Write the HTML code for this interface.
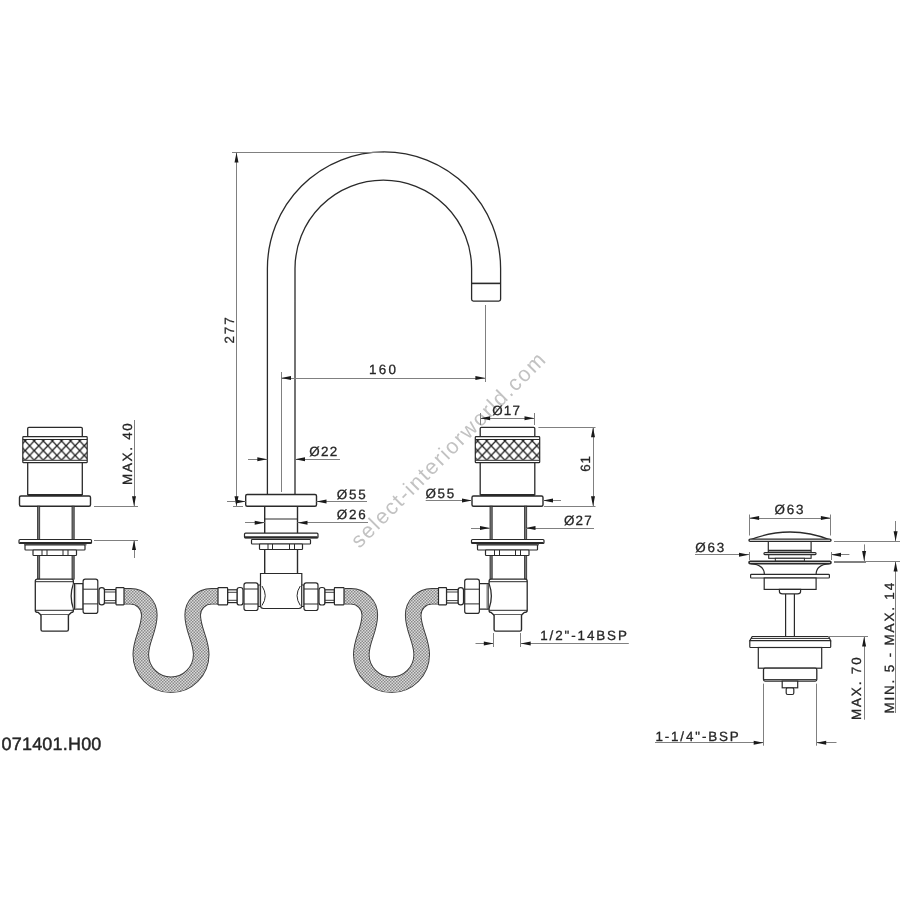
<!DOCTYPE html>
<html><head><meta charset="utf-8"><style>
html,body{margin:0;padding:0;background:#fff;}
svg{display:block;font-family:"Liberation Sans", sans-serif;filter:blur(0.3px);}
</style></head><body>
<svg width="900" height="900" viewBox="0 0 900 900">
<rect width="900" height="900" fill="#fff"/>

<defs>
 <pattern id="braid" patternUnits="userSpaceOnUse" width="3" height="3">
  <rect width="3" height="3" fill="#dadada"/>
  <rect x="0" y="0" width="1.5" height="1.5" fill="#8a8a8a"/>
  <rect x="1.5" y="1.5" width="1.5" height="1.5" fill="#8a8a8a"/>
 </pattern>
 <pattern id="knurl55" patternUnits="userSpaceOnUse" x="25.1" y="440.9" width="9.1" height="9.7">
  <path d="M0,0 L9.1,9.7 M9.1,0 L0,9.7" stroke="#1e1e1e" stroke-width="1.3"/>
 </pattern>
 <pattern id="knurl507" patternUnits="userSpaceOnUse" x="477.6" y="440.9" width="9.1" height="9.7">
  <path d="M0,0 L9.1,9.7 M9.1,0 L0,9.7" stroke="#1e1e1e" stroke-width="1.3"/>
 </pattern>
</defs>
<text x="453.6" y="454.6" font-size="21.5" letter-spacing="1.65" text-anchor="middle" fill="#c2c2c2" text-rendering="geometricPrecision" transform="rotate(-45.1 453.6 454.6)">select-interiorworld.com</text>
<path d="M 124.00 596.30 H 130.60 C 140.93 596.30 149.30 604.67 149.30 615.00 C 149.30 630.00 140.80 640.00 140.80 654.60 A 30.2 30.2 0 0 0 201.20 654.60 C 201.20 640.00 192.70 630.00 192.70 615.00 C 192.70 604.67 201.07 596.30 211.40 596.30 H 218.00" fill="none" stroke="#3a3a3a" stroke-width="16.6"/>
<path d="M 124.00 596.30 H 130.60 C 140.93 596.30 149.30 604.67 149.30 615.00 C 149.30 630.00 140.80 640.00 140.80 654.60 A 30.2 30.2 0 0 0 201.20 654.60 C 201.20 640.00 192.70 630.00 192.70 615.00 C 192.70 604.67 201.07 596.30 211.40 596.30 H 218.00" fill="none" stroke="url(#braid)" stroke-width="14.7"/>
<path d="M 344.50 596.30 H 351.10 C 361.43 596.30 369.80 604.67 369.80 615.00 C 369.80 630.00 361.30 640.00 361.30 654.60 A 30.2 30.2 0 0 0 421.70 654.60 C 421.70 640.00 413.20 630.00 413.20 615.00 C 413.20 604.67 421.57 596.30 431.90 596.30 H 438.50" fill="none" stroke="#3a3a3a" stroke-width="16.6"/>
<path d="M 344.50 596.30 H 351.10 C 361.43 596.30 369.80 604.67 369.80 615.00 C 369.80 630.00 361.30 640.00 361.30 654.60 A 30.2 30.2 0 0 0 421.70 654.60 C 421.70 640.00 413.20 630.00 413.20 615.00 C 413.20 604.67 421.57 596.30 431.90 596.30 H 438.50" fill="none" stroke="url(#braid)" stroke-width="14.7"/>
<path d="M267.4,494.5 V268.5 A116.6,116.6 0 0 1 500.6,268.5 V299.3 Q500.6,301.1 498.8,301.1 H473.4 Q471.6,301.1 471.6,299.3 V268.5 A88.3,88.3 0 0 0 295,268.5 V494.5" fill="none" stroke="#2a2a2a" stroke-width="1.30"/>
<line x1="471.60" y1="283.40" x2="500.60" y2="283.40" stroke="#2a2a2a" stroke-width="1.60"/>
<rect x="245.70" y="494.50" width="70.80" height="11.80" rx="1.50" fill="#fff" stroke="#2a2a2a" stroke-width="1.40"/>
<line x1="264.70" y1="506.30" x2="264.70" y2="533.20" stroke="#2a2a2a" stroke-width="1.40"/>
<line x1="297.50" y1="506.30" x2="297.50" y2="533.20" stroke="#2a2a2a" stroke-width="1.40"/>
<line x1="264.70" y1="519.00" x2="297.50" y2="519.00" stroke="#2a2a2a" stroke-width="1.00"/>
<rect x="244.50" y="533.20" width="73.50" height="4.80" rx="1.00" fill="#fff" stroke="#2a2a2a" stroke-width="1.20"/>
<line x1="245.00" y1="537.20" x2="317.50" y2="537.20" stroke="#2a2a2a" stroke-width="2.00"/>
<rect x="251.50" y="539.50" width="59.00" height="4.50" rx="0.80" fill="#fff" stroke="#2a2a2a" stroke-width="1.20"/>
<rect x="259.50" y="544.00" width="43.00" height="5.50" rx="0.80" fill="#fff" stroke="#2a2a2a" stroke-width="1.20"/>
<line x1="268.00" y1="544.00" x2="268.00" y2="549.50" stroke="#2a2a2a" stroke-width="1.00"/>
<line x1="272.50" y1="544.00" x2="272.50" y2="549.50" stroke="#2a2a2a" stroke-width="1.00"/>
<line x1="289.50" y1="544.00" x2="289.50" y2="549.50" stroke="#2a2a2a" stroke-width="1.00"/>
<line x1="294.50" y1="544.00" x2="294.50" y2="549.50" stroke="#2a2a2a" stroke-width="1.00"/>
<line x1="264.70" y1="549.50" x2="264.70" y2="573.50" stroke="#2a2a2a" stroke-width="1.40"/>
<line x1="297.50" y1="549.50" x2="297.50" y2="573.50" stroke="#2a2a2a" stroke-width="1.40"/>
<path d="M260.5,573.5 H301.8 V605.5 Q301.8,608.5 298.8,608.5 H263.5 Q260.5,608.5 260.5,605.5 Z" fill="#fff" stroke="#2a2a2a" stroke-width="1.20"/>
<path d="M262,586 Q268.5,595.7 262,605.5" fill="none" stroke="#2a2a2a" stroke-width="1.00"/>
<path d="M300.3,586 Q293.8,595.7 300.3,605.5" fill="none" stroke="#2a2a2a" stroke-width="1.00"/>
<rect x="258.00" y="585.00" width="2.20" height="21.50" rx="0.00" fill="#fff" stroke="#2a2a2a" stroke-width="1.00"/>
<rect x="244.00" y="582.80" width="14.00" height="27.70" rx="2.20" fill="#fff" stroke="#2a2a2a" stroke-width="1.20"/>
<line x1="244.00" y1="589.00" x2="258.00" y2="589.00" stroke="#2a2a2a" stroke-width="1.00"/>
<line x1="244.00" y1="604.00" x2="258.00" y2="604.00" stroke="#2a2a2a" stroke-width="1.00"/>
<rect x="237.00" y="587.50" width="6.00" height="17.50" rx="2.60" fill="#fff" stroke="#2a2a2a" stroke-width="1.20"/>
<rect x="227.60" y="589.80" width="9.40" height="12.80" rx="0.00" fill="#fff" stroke="#2a2a2a" stroke-width="1.20"/>
<line x1="227.60" y1="592.30" x2="237.00" y2="592.30" stroke="#2a2a2a" stroke-width="0.90"/>
<line x1="227.60" y1="600.30" x2="237.00" y2="600.30" stroke="#2a2a2a" stroke-width="0.90"/>
<rect x="218.00" y="587.70" width="9.60" height="17.10" rx="0.50" fill="#fff" stroke="#2a2a2a" stroke-width="1.20"/>
<rect x="301.80" y="585.00" width="2.20" height="21.50" rx="0.00" fill="#fff" stroke="#2a2a2a" stroke-width="1.00"/>
<rect x="304.00" y="582.80" width="14.00" height="27.70" rx="2.20" fill="#fff" stroke="#2a2a2a" stroke-width="1.20"/>
<line x1="304.00" y1="589.00" x2="318.00" y2="589.00" stroke="#2a2a2a" stroke-width="1.00"/>
<line x1="304.00" y1="604.00" x2="318.00" y2="604.00" stroke="#2a2a2a" stroke-width="1.00"/>
<rect x="319.00" y="587.50" width="6.00" height="17.50" rx="2.60" fill="#fff" stroke="#2a2a2a" stroke-width="1.20"/>
<rect x="325.00" y="589.80" width="9.40" height="12.80" rx="0.00" fill="#fff" stroke="#2a2a2a" stroke-width="1.20"/>
<line x1="325.00" y1="592.30" x2="334.40" y2="592.30" stroke="#2a2a2a" stroke-width="0.90"/>
<line x1="325.00" y1="600.30" x2="334.40" y2="600.30" stroke="#2a2a2a" stroke-width="0.90"/>
<rect x="334.40" y="587.70" width="9.60" height="17.10" rx="0.50" fill="#fff" stroke="#2a2a2a" stroke-width="1.20"/>
<rect x="27.70" y="427.30" width="54.60" height="9.60" rx="1.20" fill="#fff" stroke="#2a2a2a" stroke-width="1.30"/>
<rect x="22.80" y="436.60" width="64.40" height="26.10" rx="0.80" fill="#fff" stroke="#2a2a2a" stroke-width="1.20"/>
<line x1="22.80" y1="439.50" x2="87.20" y2="439.50" stroke="#2a2a2a" stroke-width="1.00"/>
<line x1="22.80" y1="460.30" x2="87.20" y2="460.30" stroke="#2a2a2a" stroke-width="1.00"/>
<rect x="22.80" y="439.6" width="64.4" height="20.3" fill="url(#knurl55)"/>
<line x1="27.70" y1="462.70" x2="27.70" y2="495.00" stroke="#2a2a2a" stroke-width="1.30"/>
<line x1="82.30" y1="462.70" x2="82.30" y2="495.00" stroke="#2a2a2a" stroke-width="1.30"/>
<line x1="27.70" y1="495.00" x2="82.30" y2="495.00" stroke="#2a2a2a" stroke-width="1.80"/>
<rect x="19.50" y="496.00" width="71.00" height="10.20" rx="1.50" fill="#fff" stroke="#2a2a2a" stroke-width="1.40"/>
<rect x="37.50" y="506.2" width="2.2" height="33.3" fill="#777" stroke="#2a2a2a" stroke-width="0.8"/>
<rect x="72.00" y="506.2" width="2.2" height="33.3" fill="#777" stroke="#2a2a2a" stroke-width="0.8"/>
<rect x="19.00" y="539.50" width="72.50" height="4.00" rx="1.00" fill="#fff" stroke="#2a2a2a" stroke-width="1.20"/>
<line x1="19.50" y1="543.00" x2="91.00" y2="543.00" stroke="#2a2a2a" stroke-width="1.90"/>
<line x1="24.00" y1="544.80" x2="86.50" y2="544.80" stroke="#2a2a2a" stroke-width="1.00"/>
<rect x="25.00" y="545.00" width="60.00" height="5.00" rx="0.80" fill="#fff" stroke="#2a2a2a" stroke-width="1.20"/>
<rect x="33.00" y="550.00" width="43.50" height="5.50" rx="0.80" fill="#fff" stroke="#2a2a2a" stroke-width="1.20"/>
<line x1="42.00" y1="550.00" x2="42.00" y2="555.50" stroke="#2a2a2a" stroke-width="1.00"/>
<line x1="47.00" y1="550.00" x2="47.00" y2="555.50" stroke="#2a2a2a" stroke-width="1.00"/>
<line x1="63.00" y1="550.00" x2="63.00" y2="555.50" stroke="#2a2a2a" stroke-width="1.00"/>
<line x1="68.00" y1="550.00" x2="68.00" y2="555.50" stroke="#2a2a2a" stroke-width="1.00"/>
<rect x="37.50" y="555.5" width="2.2" height="23.7" fill="#777" stroke="#2a2a2a" stroke-width="0.8"/>
<rect x="72.00" y="555.5" width="2.2" height="23.7" fill="#777" stroke="#2a2a2a" stroke-width="0.8"/>
<g transform="translate(55.00,0) scale(1,1)">
<path d="M-17.7,579.2 H16.4 Q18.4,579.2 18.4,581.2 V583.6 Q13.9,596 18.4,608.6 V610.4 Q18.4,612.4 16.4,612.4 L13.6,615 H-14 L-16.8,612.4 Q-19.7,612.4 -19.7,610.4 V581.2 Q-19.7,579.2 -17.7,579.2 Z" fill="#fff" stroke="#2a2a2a" stroke-width="1.30"/>
<line x1="-19.70" y1="581.70" x2="18.40" y2="581.70" stroke="#2a2a2a" stroke-width="1.00"/>
<line x1="-19.70" y1="610.30" x2="18.40" y2="610.30" stroke="#2a2a2a" stroke-width="1.00"/>
<path d="M-14,615 V629.5 Q-14,631.1 -12.4,631.1 H11.8 Q13.4,631.1 13.4,629.5 V615" fill="#fff" stroke="#2a2a2a" stroke-width="1.40"/>
<path d="M18.6,583.6 H28.1 V609.2 H18.6" fill="#fff" stroke="#2a2a2a" stroke-width="1.20"/>
<line x1="19.40" y1="583.60" x2="19.40" y2="609.20" stroke="#2a2a2a" stroke-width="1.30"/>
<line x1="20.70" y1="583.80" x2="20.70" y2="609.00" stroke="#8a8a8a" stroke-width="0.80"/>
<rect x="28.10" y="579.20" width="14.70" height="34.20" rx="2.20" fill="#fff" stroke="#2a2a2a" stroke-width="1.20"/>
<line x1="28.10" y1="589.20" x2="42.80" y2="589.20" stroke="#2a2a2a" stroke-width="1.00"/>
<line x1="28.10" y1="603.90" x2="42.80" y2="603.90" stroke="#2a2a2a" stroke-width="1.00"/>
<rect x="44.00" y="587.70" width="5.50" height="17.10" rx="2.60" fill="#fff" stroke="#2a2a2a" stroke-width="1.20"/>
<rect x="49.50" y="589.60" width="11.50" height="13.40" rx="0.00" fill="#fff" stroke="#2a2a2a" stroke-width="1.20"/>
<line x1="49.50" y1="592.00" x2="61.00" y2="592.00" stroke="#2a2a2a" stroke-width="0.90"/>
<line x1="49.50" y1="600.60" x2="61.00" y2="600.60" stroke="#2a2a2a" stroke-width="0.90"/>
<rect x="61.00" y="587.70" width="8.00" height="17.10" rx="0.50" fill="#fff" stroke="#2a2a2a" stroke-width="1.20"/>
</g>
<rect x="480.20" y="427.30" width="54.60" height="9.60" rx="1.20" fill="#fff" stroke="#2a2a2a" stroke-width="1.30"/>
<rect x="475.30" y="436.60" width="64.40" height="26.10" rx="0.80" fill="#fff" stroke="#2a2a2a" stroke-width="1.20"/>
<line x1="475.30" y1="439.50" x2="539.70" y2="439.50" stroke="#2a2a2a" stroke-width="1.00"/>
<line x1="475.30" y1="460.30" x2="539.70" y2="460.30" stroke="#2a2a2a" stroke-width="1.00"/>
<rect x="475.30" y="439.6" width="64.4" height="20.3" fill="url(#knurl507)"/>
<line x1="480.20" y1="462.70" x2="480.20" y2="495.00" stroke="#2a2a2a" stroke-width="1.30"/>
<line x1="534.80" y1="462.70" x2="534.80" y2="495.00" stroke="#2a2a2a" stroke-width="1.30"/>
<line x1="480.20" y1="495.00" x2="534.80" y2="495.00" stroke="#2a2a2a" stroke-width="1.80"/>
<rect x="472.00" y="496.00" width="71.00" height="10.20" rx="1.50" fill="#fff" stroke="#2a2a2a" stroke-width="1.40"/>
<rect x="490.00" y="506.2" width="2.2" height="33.3" fill="#777" stroke="#2a2a2a" stroke-width="0.8"/>
<rect x="524.50" y="506.2" width="2.2" height="33.3" fill="#777" stroke="#2a2a2a" stroke-width="0.8"/>
<rect x="471.50" y="539.50" width="72.50" height="4.00" rx="1.00" fill="#fff" stroke="#2a2a2a" stroke-width="1.20"/>
<line x1="472.00" y1="543.00" x2="543.50" y2="543.00" stroke="#2a2a2a" stroke-width="1.90"/>
<line x1="476.50" y1="544.80" x2="539.00" y2="544.80" stroke="#2a2a2a" stroke-width="1.00"/>
<rect x="477.50" y="545.00" width="60.00" height="5.00" rx="0.80" fill="#fff" stroke="#2a2a2a" stroke-width="1.20"/>
<rect x="485.50" y="550.00" width="43.50" height="5.50" rx="0.80" fill="#fff" stroke="#2a2a2a" stroke-width="1.20"/>
<line x1="494.50" y1="550.00" x2="494.50" y2="555.50" stroke="#2a2a2a" stroke-width="1.00"/>
<line x1="499.50" y1="550.00" x2="499.50" y2="555.50" stroke="#2a2a2a" stroke-width="1.00"/>
<line x1="515.50" y1="550.00" x2="515.50" y2="555.50" stroke="#2a2a2a" stroke-width="1.00"/>
<line x1="520.50" y1="550.00" x2="520.50" y2="555.50" stroke="#2a2a2a" stroke-width="1.00"/>
<rect x="490.00" y="555.5" width="2.2" height="23.7" fill="#777" stroke="#2a2a2a" stroke-width="0.8"/>
<rect x="524.50" y="555.5" width="2.2" height="23.7" fill="#777" stroke="#2a2a2a" stroke-width="0.8"/>
<g transform="translate(507.50,0) scale(-1,1)">
<path d="M-17.7,579.2 H16.4 Q18.4,579.2 18.4,581.2 V583.6 Q13.9,596 18.4,608.6 V610.4 Q18.4,612.4 16.4,612.4 L13.6,615 H-14 L-16.8,612.4 Q-19.7,612.4 -19.7,610.4 V581.2 Q-19.7,579.2 -17.7,579.2 Z" fill="#fff" stroke="#2a2a2a" stroke-width="1.30"/>
<line x1="-19.70" y1="581.70" x2="18.40" y2="581.70" stroke="#2a2a2a" stroke-width="1.00"/>
<line x1="-19.70" y1="610.30" x2="18.40" y2="610.30" stroke="#2a2a2a" stroke-width="1.00"/>
<path d="M-14,615 V629.5 Q-14,631.1 -12.4,631.1 H11.8 Q13.4,631.1 13.4,629.5 V615" fill="#fff" stroke="#2a2a2a" stroke-width="1.40"/>
<path d="M18.6,583.6 H28.1 V609.2 H18.6" fill="#fff" stroke="#2a2a2a" stroke-width="1.20"/>
<line x1="19.40" y1="583.60" x2="19.40" y2="609.20" stroke="#2a2a2a" stroke-width="1.30"/>
<line x1="20.70" y1="583.80" x2="20.70" y2="609.00" stroke="#8a8a8a" stroke-width="0.80"/>
<rect x="28.10" y="579.20" width="14.70" height="34.20" rx="2.20" fill="#fff" stroke="#2a2a2a" stroke-width="1.20"/>
<line x1="28.10" y1="589.20" x2="42.80" y2="589.20" stroke="#2a2a2a" stroke-width="1.00"/>
<line x1="28.10" y1="603.90" x2="42.80" y2="603.90" stroke="#2a2a2a" stroke-width="1.00"/>
<rect x="44.00" y="587.70" width="5.50" height="17.10" rx="2.60" fill="#fff" stroke="#2a2a2a" stroke-width="1.20"/>
<rect x="49.50" y="589.60" width="11.50" height="13.40" rx="0.00" fill="#fff" stroke="#2a2a2a" stroke-width="1.20"/>
<line x1="49.50" y1="592.00" x2="61.00" y2="592.00" stroke="#2a2a2a" stroke-width="0.90"/>
<line x1="49.50" y1="600.60" x2="61.00" y2="600.60" stroke="#2a2a2a" stroke-width="0.90"/>
<rect x="61.00" y="587.70" width="8.00" height="17.10" rx="0.50" fill="#fff" stroke="#2a2a2a" stroke-width="1.20"/>
</g>
<path d="M749.5,540 Q790,524 830.5,540" fill="none" stroke="#2a2a2a" stroke-width="1.30"/>
<rect x="749.00" y="539.10" width="82.00" height="2.30" rx="1.10" fill="#fff" stroke="#2a2a2a" stroke-width="1.40"/>
<line x1="768.30" y1="541.30" x2="768.30" y2="552.50" stroke="#2a2a2a" stroke-width="1.20"/>
<line x1="811.10" y1="541.30" x2="811.10" y2="552.50" stroke="#2a2a2a" stroke-width="1.20"/>
<line x1="768.30" y1="550.60" x2="811.10" y2="550.60" stroke="#2a2a2a" stroke-width="1.60"/>
<rect x="763.90" y="552.60" width="52.20" height="2.00" rx="1.00" fill="#fff" stroke="#2a2a2a" stroke-width="1.10"/>
<rect x="768.70" y="554.70" width="42.40" height="3.60" rx="0.00" fill="#fff" stroke="#2a2a2a" stroke-width="1.10"/>
<rect x="775.30" y="558.30" width="29.10" height="3.00" rx="0.00" fill="#fff" stroke="#2a2a2a" stroke-width="1.00"/>
<rect x="749.00" y="561.30" width="82.00" height="2.30" rx="1.10" fill="#fff" stroke="#2a2a2a" stroke-width="1.60"/>
<path d="M751,563.6 C760,564.5 764.4,568 764.4,574.4" fill="none" stroke="#2a2a2a" stroke-width="1.20"/>
<path d="M829,563.6 C820,564.5 816.1,568 816.1,574.4" fill="none" stroke="#2a2a2a" stroke-width="1.20"/>
<rect x="750.60" y="574.40" width="78.80" height="3.60" rx="0.80" fill="#fff" stroke="#2a2a2a" stroke-width="1.20"/>
<rect x="764.20" y="578.00" width="51.90" height="11.40" rx="0.00" fill="#fff" stroke="#2a2a2a" stroke-width="1.20"/>
<path d="M779.4,589.4 H800.6 V591.5 Q800.6,593.9 797.5,593.9 H782.5 Q779.4,593.9 779.4,591.5 Z" fill="#fff" stroke="#2a2a2a" stroke-width="1.20"/>
<line x1="785.60" y1="593.90" x2="785.60" y2="636.50" stroke="#2a2a2a" stroke-width="1.20"/>
<line x1="794.40" y1="593.90" x2="794.40" y2="636.50" stroke="#2a2a2a" stroke-width="1.20"/>
<path d="M752.2,636.5 H828.6 L830.7,640.7 H749.8 Z" fill="#fff" stroke="#2a2a2a" stroke-width="1.20"/>
<line x1="751.00" y1="638.40" x2="829.50" y2="638.40" stroke="#2a2a2a" stroke-width="1.00"/>
<rect x="749.80" y="640.70" width="80.90" height="6.80" rx="0.80" fill="#fff" stroke="#2a2a2a" stroke-width="1.20"/>
<rect x="758.30" y="647.50" width="63.40" height="20.70" rx="0.00" fill="#fff" stroke="#2a2a2a" stroke-width="1.20"/>
<rect x="763.50" y="668.20" width="53.30" height="12.90" rx="1.50" fill="#fff" stroke="#2a2a2a" stroke-width="1.30"/>
<line x1="764.00" y1="679.60" x2="816.30" y2="679.60" stroke="#2a2a2a" stroke-width="1.00"/>
<rect x="782.20" y="681.10" width="15.50" height="6.70" rx="0.00" fill="#fff" stroke="#2a2a2a" stroke-width="1.20"/>
<rect x="786.20" y="687.80" width="7.60" height="6.70" rx="1.50" fill="#fff" stroke="#2a2a2a" stroke-width="1.20"/>
<line x1="236.50" y1="152.40" x2="236.50" y2="506.30" stroke="#808080" stroke-width="1.00"/>
<line x1="232.00" y1="152.50" x2="384.00" y2="152.50" stroke="#808080" stroke-width="1.00"/>
<line x1="233.00" y1="506.50" x2="243.00" y2="506.50" stroke="#808080" stroke-width="1.00"/>
<polygon points="236.50,152.40 234.50,162.40 238.50,162.40" fill="#1a1a1a"/>
<polygon points="236.50,506.30 234.50,496.30 238.50,496.30" fill="#1a1a1a"/>
<text x="233.59" y="329.46" font-size="13.4" letter-spacing="1.910" text-anchor="middle" fill="#262626" stroke="#262626" stroke-width="0.3" text-rendering="geometricPrecision" transform="rotate(-90 233.59 329.46)">277</text>
<line x1="281.00" y1="378.50" x2="485.40" y2="378.50" stroke="#808080" stroke-width="1.00"/>
<line x1="281.50" y1="372.00" x2="281.50" y2="492.00" stroke="#808080" stroke-width="1.00"/>
<line x1="485.50" y1="305.00" x2="485.50" y2="382.00" stroke="#808080" stroke-width="1.00"/>
<polygon points="281.00,378.00 291.00,376.00 291.00,380.00" fill="#1a1a1a"/>
<polygon points="485.40,378.00 475.40,376.00 475.40,380.00" fill="#1a1a1a"/>
<text x="383.62" y="374.38" font-size="13.4" letter-spacing="2.225" text-anchor="middle" fill="#262626" stroke="#262626" stroke-width="0.3" text-rendering="geometricPrecision">160</text>
<line x1="248.00" y1="459.50" x2="267.30" y2="459.50" stroke="#808080" stroke-width="1.00"/>
<polygon points="267.30,459.30 257.30,457.30 257.30,461.30" fill="#1a1a1a"/>
<line x1="295.00" y1="459.50" x2="340.00" y2="459.50" stroke="#808080" stroke-width="1.00"/>
<polygon points="295.00,459.30 305.00,457.30 305.00,461.30" fill="#1a1a1a"/>
<text x="309.27" y="455.92" font-size="13.4" letter-spacing="1.325" text-anchor="start" fill="#262626" stroke="#262626" stroke-width="0.3" text-rendering="geometricPrecision">Ø22</text>
<line x1="227.00" y1="501.50" x2="245.70" y2="501.50" stroke="#808080" stroke-width="1.00"/>
<polygon points="245.70,501.50 235.70,499.50 235.70,503.50" fill="#1a1a1a"/>
<line x1="316.50" y1="501.50" x2="367.00" y2="501.50" stroke="#808080" stroke-width="1.00"/>
<polygon points="316.50,501.50 326.50,499.50 326.50,503.50" fill="#1a1a1a"/>
<text x="336.77" y="498.73" font-size="13.4" letter-spacing="1.775" text-anchor="start" fill="#262626" stroke="#262626" stroke-width="0.3" text-rendering="geometricPrecision">Ø55</text>
<line x1="245.00" y1="522.50" x2="264.70" y2="522.50" stroke="#808080" stroke-width="1.00"/>
<polygon points="264.70,522.70 254.70,520.70 254.70,524.70" fill="#1a1a1a"/>
<line x1="297.50" y1="522.50" x2="368.00" y2="522.50" stroke="#808080" stroke-width="1.00"/>
<polygon points="297.50,522.70 307.50,520.70 307.50,524.70" fill="#1a1a1a"/>
<text x="336.82" y="519.27" font-size="13.4" letter-spacing="1.775" text-anchor="start" fill="#262626" stroke="#262626" stroke-width="0.3" text-rendering="geometricPrecision">Ø26</text>
<line x1="134.50" y1="420.00" x2="134.50" y2="506.30" stroke="#808080" stroke-width="1.00"/>
<polygon points="134.00,506.30 132.00,496.30 136.00,496.30" fill="#1a1a1a"/>
<line x1="94.00" y1="506.50" x2="138.00" y2="506.50" stroke="#808080" stroke-width="1.00"/>
<line x1="94.00" y1="540.50" x2="138.00" y2="540.50" stroke="#808080" stroke-width="1.00"/>
<line x1="134.50" y1="540.00" x2="134.50" y2="558.00" stroke="#808080" stroke-width="1.00"/>
<polygon points="134.00,540.00 132.00,550.00 136.00,550.00" fill="#1a1a1a"/>
<text x="132.04" y="453.23" font-size="13.4" letter-spacing="1.745" text-anchor="middle" fill="#262626" stroke="#262626" stroke-width="0.3" text-rendering="geometricPrecision" transform="rotate(-90 132.04 453.23)">MAX. 40</text>
<line x1="480.10" y1="418.50" x2="534.50" y2="418.50" stroke="#808080" stroke-width="1.00"/>
<polygon points="480.10,418.30 490.10,416.30 490.10,420.30" fill="#1a1a1a"/>
<polygon points="534.50,418.30 524.50,416.30 524.50,420.30" fill="#1a1a1a"/>
<line x1="480.50" y1="413.00" x2="480.50" y2="425.00" stroke="#808080" stroke-width="1.00"/>
<line x1="534.50" y1="413.00" x2="534.50" y2="425.00" stroke="#808080" stroke-width="1.00"/>
<text x="492.23" y="414.84" font-size="13.4" letter-spacing="1.235" text-anchor="start" fill="#262626" stroke="#262626" stroke-width="0.3" text-rendering="geometricPrecision">Ø17</text>
<line x1="593.50" y1="427.30" x2="593.50" y2="506.30" stroke="#808080" stroke-width="1.00"/>
<polygon points="593.00,427.30 591.00,437.30 595.00,437.30" fill="#1a1a1a"/>
<polygon points="593.00,506.30 591.00,496.30 595.00,496.30" fill="#1a1a1a"/>
<line x1="538.40" y1="427.50" x2="595.50" y2="427.50" stroke="#808080" stroke-width="1.00"/>
<line x1="544.00" y1="506.50" x2="595.50" y2="506.50" stroke="#808080" stroke-width="1.00"/>
<text x="590.26" y="463.41" font-size="13.4" letter-spacing="0.830" text-anchor="middle" fill="#262626" stroke="#262626" stroke-width="0.3" text-rendering="geometricPrecision" transform="rotate(-90 590.26 463.41)">61</text>
<line x1="425.70" y1="500.50" x2="472.00" y2="500.50" stroke="#808080" stroke-width="1.00"/>
<polygon points="472.00,500.50 462.00,498.50 462.00,502.50" fill="#1a1a1a"/>
<line x1="543.00" y1="500.50" x2="561.00" y2="500.50" stroke="#808080" stroke-width="1.00"/>
<polygon points="543.00,500.50 553.00,498.50 553.00,502.50" fill="#1a1a1a"/>
<text x="425.43" y="497.79" font-size="13.4" letter-spacing="1.730" text-anchor="start" fill="#262626" stroke="#262626" stroke-width="0.3" text-rendering="geometricPrecision">Ø55</text>
<line x1="471.00" y1="528.50" x2="490.00" y2="528.50" stroke="#808080" stroke-width="1.00"/>
<polygon points="490.00,528.00 480.00,526.00 480.00,530.00" fill="#1a1a1a"/>
<line x1="525.50" y1="528.50" x2="594.00" y2="528.50" stroke="#808080" stroke-width="1.00"/>
<polygon points="525.50,528.00 535.50,526.00 535.50,530.00" fill="#1a1a1a"/>
<text x="563.91" y="524.56" font-size="13.4" letter-spacing="1.212" text-anchor="start" fill="#262626" stroke="#262626" stroke-width="0.3" text-rendering="geometricPrecision">Ø27</text>
<line x1="475.50" y1="643.50" x2="493.80" y2="643.50" stroke="#808080" stroke-width="1.00"/>
<polygon points="493.80,643.50 483.80,641.50 483.80,645.50" fill="#1a1a1a"/>
<line x1="520.70" y1="643.50" x2="628.80" y2="643.50" stroke="#808080" stroke-width="1.00"/>
<polygon points="520.70,643.50 530.70,641.50 530.70,645.50" fill="#1a1a1a"/>
<line x1="493.50" y1="633.00" x2="493.50" y2="647.00" stroke="#808080" stroke-width="1.00"/>
<line x1="520.50" y1="633.00" x2="520.50" y2="647.00" stroke="#808080" stroke-width="1.00"/>
<text x="540.24" y="640.42" font-size="13.4" letter-spacing="1.900" text-anchor="start" fill="#262626" stroke="#262626" stroke-width="0.3" text-rendering="geometricPrecision">1/2&quot;-14BSP</text>
<line x1="749.10" y1="518.50" x2="830.90" y2="518.50" stroke="#808080" stroke-width="1.00"/>
<polygon points="749.10,518.00 759.10,516.00 759.10,520.00" fill="#1a1a1a"/>
<polygon points="830.90,518.00 820.90,516.00 820.90,520.00" fill="#1a1a1a"/>
<line x1="749.50" y1="514.50" x2="749.50" y2="535.50" stroke="#808080" stroke-width="1.00"/>
<line x1="830.50" y1="514.50" x2="830.50" y2="535.50" stroke="#808080" stroke-width="1.00"/>
<text x="774.45" y="514.42" font-size="13.4" letter-spacing="1.820" text-anchor="start" fill="#262626" stroke="#262626" stroke-width="0.3" text-rendering="geometricPrecision">Ø63</text>
<line x1="695.00" y1="554.50" x2="749.00" y2="554.50" stroke="#808080" stroke-width="1.00"/>
<polygon points="749.00,554.80 739.00,552.80 739.00,556.80" fill="#1a1a1a"/>
<line x1="831.00" y1="554.50" x2="849.40" y2="554.50" stroke="#808080" stroke-width="1.00"/>
<polygon points="831.00,554.80 841.00,552.80 841.00,556.80" fill="#1a1a1a"/>
<line x1="749.50" y1="552.00" x2="749.50" y2="560.00" stroke="#808080" stroke-width="1.00"/>
<line x1="831.50" y1="552.00" x2="831.50" y2="560.00" stroke="#808080" stroke-width="1.00"/>
<text x="695.13" y="551.73" font-size="13.4" letter-spacing="1.865" text-anchor="start" fill="#262626" stroke="#262626" stroke-width="0.3" text-rendering="geometricPrecision">Ø63</text>
<line x1="834.00" y1="541.50" x2="900.00" y2="541.50" stroke="#808080" stroke-width="1.00"/>
<line x1="834.00" y1="561.50" x2="900.00" y2="561.50" stroke="#808080" stroke-width="1.00"/>
<line x1="834.00" y1="562.50" x2="866.00" y2="562.50" stroke="#808080" stroke-width="1.00"/>
<line x1="895.50" y1="521.00" x2="895.50" y2="541.30" stroke="#808080" stroke-width="1.00"/>
<polygon points="895.60,541.30 893.60,531.30 897.60,531.30" fill="#1a1a1a"/>
<line x1="895.50" y1="561.50" x2="895.50" y2="713.00" stroke="#808080" stroke-width="1.00"/>
<polygon points="895.60,561.50 893.60,571.50 897.60,571.50" fill="#1a1a1a"/>
<line x1="864.50" y1="544.40" x2="864.50" y2="561.00" stroke="#808080" stroke-width="1.00"/>
<polygon points="864.10,561.00 862.10,551.00 866.10,551.00" fill="#1a1a1a"/>
<text x="893.77" y="647.28" font-size="13.4" letter-spacing="1.868" text-anchor="middle" fill="#262626" stroke="#262626" stroke-width="0.3" text-rendering="geometricPrecision" transform="rotate(-90 893.77 647.28)">MIN. 5 - MAX. 14</text>
<line x1="864.50" y1="636.50" x2="864.50" y2="719.70" stroke="#808080" stroke-width="1.00"/>
<polygon points="864.10,636.50 862.10,646.50 866.10,646.50" fill="#1a1a1a"/>
<line x1="828.00" y1="636.50" x2="868.00" y2="636.50" stroke="#808080" stroke-width="1.00"/>
<text x="861.19" y="687.73" font-size="13.4" letter-spacing="1.880" text-anchor="middle" fill="#262626" stroke="#262626" stroke-width="0.3" text-rendering="geometricPrecision" transform="rotate(-90 861.19 687.73)">MAX. 70</text>
<line x1="655.00" y1="742.50" x2="763.70" y2="742.50" stroke="#808080" stroke-width="1.00"/>
<polygon points="763.70,742.80 753.70,740.80 753.70,744.80" fill="#1a1a1a"/>
<line x1="816.20" y1="742.50" x2="836.50" y2="742.50" stroke="#808080" stroke-width="1.00"/>
<polygon points="816.20,742.80 826.20,740.80 826.20,744.80" fill="#1a1a1a"/>
<line x1="763.50" y1="683.60" x2="763.50" y2="745.70" stroke="#808080" stroke-width="1.00"/>
<line x1="816.50" y1="683.60" x2="816.50" y2="745.70" stroke="#808080" stroke-width="1.00"/>
<text x="655.41" y="740.77" font-size="13.4" letter-spacing="1.870" text-anchor="start" fill="#262626" stroke="#262626" stroke-width="0.3" text-rendering="geometricPrecision">1-1/4&quot;-BSP</text>
<text x="1.55" y="749.86" font-size="18" letter-spacing="0.190" text-anchor="start" fill="#262626" stroke="#262626" stroke-width="0.45" text-rendering="geometricPrecision">071401.H00</text>
</svg>
</body></html>
